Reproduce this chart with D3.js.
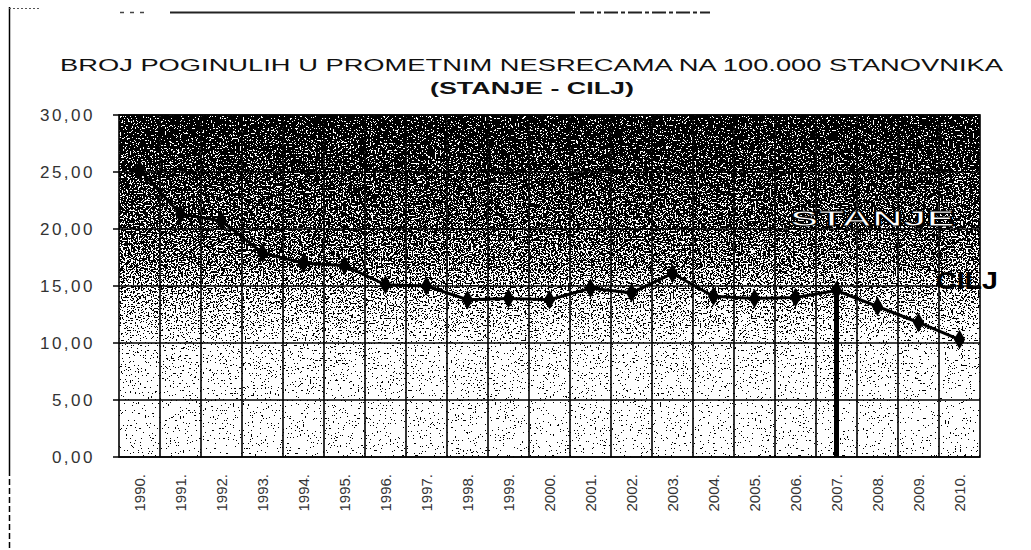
<!DOCTYPE html>
<html>
<head>
<meta charset="utf-8">
<script src="https://cdn.jsdelivr.net/npm/d3@7/dist/d3.min.js"></script>
<style>
  html, body { margin: 0; padding: 0; background: #fff; }
  svg { display: block; }
  text { font-family: "Liberation Sans", Arial, sans-serif; }
</style>
</head>
<body>
<svg id="chart" width="1031" height="550"></svg>
<script>
// ---- data ----
const years = ["1990.","1991.","1992.","1993.","1994.","1995.","1996.","1997.","1998.","1999.",
               "2000.","2001.","2002.","2003.","2004.","2005.","2006.","2007.","2008.","2009.","2010."];
const rates = [25.2, 21.3, 20.7, 17.9, 17.0, 16.8, 15.1, 15.0, 13.8, 13.9,
               13.8, 14.8, 14.4, 16.1, 14.1, 13.9, 14.0, 14.6, 13.2, 11.8, 10.3];
const yTicks = [0, 5, 10, 15, 20, 25, 30];
const yTickLabels = ["0,00","5,00","10,00","15,00","20,00","25,00","30,00"];
const titleLines = ["BROJ POGINULIH U PROMETNIM NESRECAMA NA 100.000 STANOVNIKA", "(STANJE - CILJ)"];
const splitYear = "2007.";
const labelStanje = "STANJE";
const labelCilj = "CILJ";
// shading of the dithered background by value (value -> grey level)
const shadeValues = [30, 25, 20, 17, 15, 12, 10, 5, 0];
const shadeGrey   = [0.07, 0.17, 0.28, 0.36, 0.48, 0.64, 0.77, 0.84, 0.86];

// ---- layout ----
const svg = d3.select("#chart");
const L = 119, R = 980, T = 115, B = 457;

const x = d3.scaleBand().domain(years).range([L, R]).padding(0);
const y = d3.scaleLinear().domain([0, 30]).range([B, T]);

const defs = svg.append("defs");
const grad = defs.append("linearGradient").attr("id", "shade")
  .attr("gradientUnits", "userSpaceOnUse")
  .attr("x1", 0).attr("x2", 0).attr("y1", y(30)).attr("y2", y(0));
shadeValues.forEach((v, i) => {
  const g = Math.round(shadeGrey[i] * 255);
  grad.append("stop").attr("offset", (30 - v) / 30).attr("stop-color", `rgb(${g},${g},${g})`);
});

const f = defs.append("filter").attr("id", "dither")
  .attr("filterUnits", "userSpaceOnUse")
  .attr("x", L).attr("y", T).attr("width", R - L).attr("height", B - T)
  .attr("color-interpolation-filters", "sRGB");
f.append("feTurbulence").attr("type", "fractalNoise").attr("baseFrequency", 0.6)
  .attr("numOctaves", 2).attr("seed", 11).attr("result", "noise");
f.append("feColorMatrix").attr("in", "noise").attr("type", "matrix")
  .attr("values", "2.2 0 0 0 -0.6  2.2 0 0 0 -0.6  2.2 0 0 0 -0.6  0 0 0 0 1")
  .attr("result", "n2");
f.append("feComposite").attr("in", "SourceGraphic").attr("in2", "n2")
  .attr("operator", "arithmetic").attr("k1", 0).attr("k2", 1).attr("k3", 1).attr("k4", -0.4)
  .attr("result", "sum");
const ct = f.append("feComponentTransfer").attr("in", "sum");
["feFuncR","feFuncG","feFuncB"].forEach(n => ct.append(n).attr("type", "discrete").attr("tableValues", "0 1"));
ct.append("feFuncA").attr("type", "linear").attr("slope", 0).attr("intercept", 1);

// outer page frame fragments
svg.append("line").attr("x1", 9.5).attr("x2", 9.5).attr("y1", 7).attr("y2", 470)
  .attr("stroke", "#000").attr("stroke-width", 1.5);
svg.append("line").attr("x1", 9.5).attr("x2", 9.5).attr("y1", 470).attr("y2", 550)
  .attr("stroke", "#000").attr("stroke-width", 1.5).attr("stroke-dasharray", "6,3");
svg.append("line").attr("x1", 9).attr("x2", 40).attr("y1", 8.5).attr("y2", 8.5)
  .attr("stroke", "#555").attr("stroke-width", 1).attr("stroke-dasharray", "2,2");
svg.append("line").attr("x1", 120).attr("x2", 150).attr("y1", 12.5).attr("y2", 12.5)
  .attr("stroke", "#444").attr("stroke-width", 1.5).attr("stroke-dasharray", "4,6");
svg.append("line").attr("x1", 170).attr("x2", 575).attr("y1", 12.5).attr("y2", 12.5)
  .attr("stroke", "#222").attr("stroke-width", 2);
svg.append("line").attr("x1", 580).attr("x2", 710).attr("y1", 12.5).attr("y2", 12.5)
  .attr("stroke", "#222").attr("stroke-width", 2).attr("stroke-dasharray", "14,3,4,3");

// title
svg.append("text").attr("x", 60).attr("y", 71).attr("font-size", 17)
  .attr("textLength", 943).attr("lengthAdjust", "spacingAndGlyphs")
  .attr("fill", "#111").text(titleLines[0]);
svg.append("text").attr("x", 430).attr("y", 94).attr("font-size", 17).attr("font-weight", "bold")
  .attr("textLength", 204).attr("lengthAdjust", "spacingAndGlyphs")
  .attr("fill", "#111").text(titleLines[1]);

// dithered plot background
svg.append("rect").attr("x", L).attr("y", T).attr("width", R - L).attr("height", B - T)
  .attr("fill", "url(#shade)").attr("filter", "url(#dither)");

// grid
const grid = svg.append("g").attr("stroke", "#000").attr("stroke-width", 1.6);
yTicks.forEach(v => {
  grid.append("line").attr("x1", L - 6).attr("x2", R).attr("y1", y(v)).attr("y2", y(v));
});
years.forEach((yr, i) => {
  if (i === 0) return;
  const xx = x(yr);
  grid.append("line").attr("x1", xx).attr("x2", xx).attr("y1", T).attr("y2", B);
});
grid.append("rect").attr("x", L).attr("y", T).attr("width", R - L).attr("height", B - T)
  .attr("fill", "none");

// y axis labels
const yAxis = d3.axisLeft(y).tickValues(yTicks).tickSize(0)
  .tickFormat(d => yTickLabels[yTicks.indexOf(d)]);
const ga = svg.append("g").attr("transform", `translate(${L - 24},0)`).call(yAxis);
ga.select(".domain").remove();
ga.selectAll("text").attr("font-size", 17).attr("fill", "#333")
  .attr("font-family", "Liberation Sans, Arial, sans-serif")
  .attr("letter-spacing", 2.5).attr("dx", 0).attr("dy", "0.35em").attr("x", 0);

// x axis labels (rotated)
const xAxis = d3.axisBottom(x).tickSize(0);
const gx = svg.append("g").attr("transform", `translate(0,${B})`).call(xAxis);
gx.select(".domain").remove();
gx.selectAll("text")
  .attr("font-size", 15).attr("fill", "#333")
  .attr("font-family", "Liberation Sans, Arial, sans-serif")
  .attr("transform", "rotate(-90)")
  .attr("text-anchor", "end")
  .attr("x", -17).attr("y", 0).attr("dy", "0.35em");

// split line at 2007
const cx = d => x(d) + x.bandwidth() / 2;
const si = years.indexOf(splitYear);
svg.append("line").attr("x1", cx(splitYear)).attr("x2", cx(splitYear))
  .attr("y1", y(rates[si])).attr("y2", y(0))
  .attr("stroke", "#000").attr("stroke-width", 5);

// data line
const line = d3.line().x((d, i) => cx(years[i])).y(d => y(d));
svg.append("path").datum(rates).attr("d", line)
  .attr("fill", "none").attr("stroke", "#000").attr("stroke-width", 3);
svg.append("g").selectAll("path").data(rates).join("path")
  .attr("d", d3.symbol(d3.symbolDiamond, 110))
  .attr("transform", (d, i) => `translate(${cx(years[i])},${y(d)})`)
  .attr("fill", "#000");

// labels
svg.append("text").attr("x", 790).attr("y", 226).attr("font-size", 22).attr("font-weight", "bold")
  .attr("textLength", 165).attr("lengthAdjust", "spacingAndGlyphs")
  .attr("fill", "#fff").attr("stroke", "#000").attr("stroke-width", 1.2).text(labelStanje);
svg.append("text").attr("x", 936).attr("y", 289).attr("font-size", 23).attr("font-weight", "bold")
  .attr("textLength", 62).attr("lengthAdjust", "spacingAndGlyphs")
  .attr("fill", "#000").text(labelCilj);
</script>
</body>
</html>
